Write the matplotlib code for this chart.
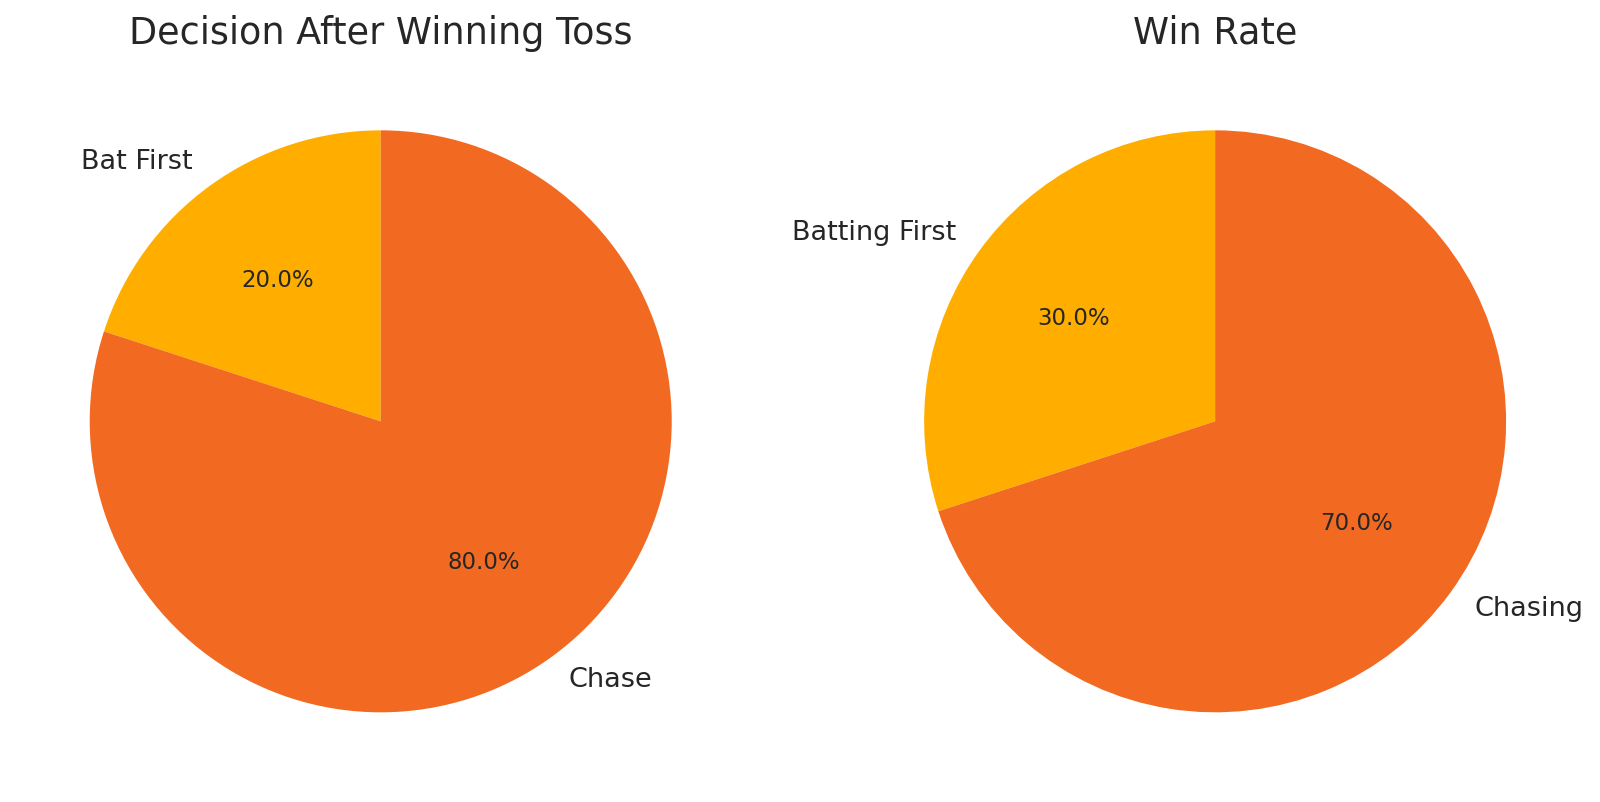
import matplotlib
matplotlib.use("Agg")
import matplotlib.pyplot as plt

# toss decision split
decision_labels = ["Bat First", "Chase"]
decision_share = [20, 80]

# win rate by innings
win_labels = ["Batting First", "Chasing"]
win_share = [30, 70]

colors = ["#FFAE00", "#F26A21"]
text_color = "#262626"

fig = plt.figure(figsize=(16, 8.02), dpi=100)
ax1 = fig.add_axes([0.0106, 0.0211, 0.4547, 0.9071])
ax2 = fig.add_axes([0.5321, 0.0211, 0.4547, 0.9071])

for ax, labels, values, title in [
    (ax1, decision_labels, decision_share, "Decision After Winning Toss"),
    (ax2, win_labels, win_share, "Win Rate"),
]:
    wedges, texts, autotexts = ax.pie(
        values, labels=labels, colors=colors, startangle=90,
        autopct="%1.1f%%", textprops={"color": text_color, "fontsize": 19.5},
    )
    for t in autotexts:
        t.set_fontsize(16.5)
    ax.set_title(title, fontsize=26.3, color=text_color, pad=10)
    ax.set_xlim(-1.25, 1.25)
    ax.set_ylim(-1.25, 1.25)
    ax.set_aspect("equal")

plt.savefig("out.png")
